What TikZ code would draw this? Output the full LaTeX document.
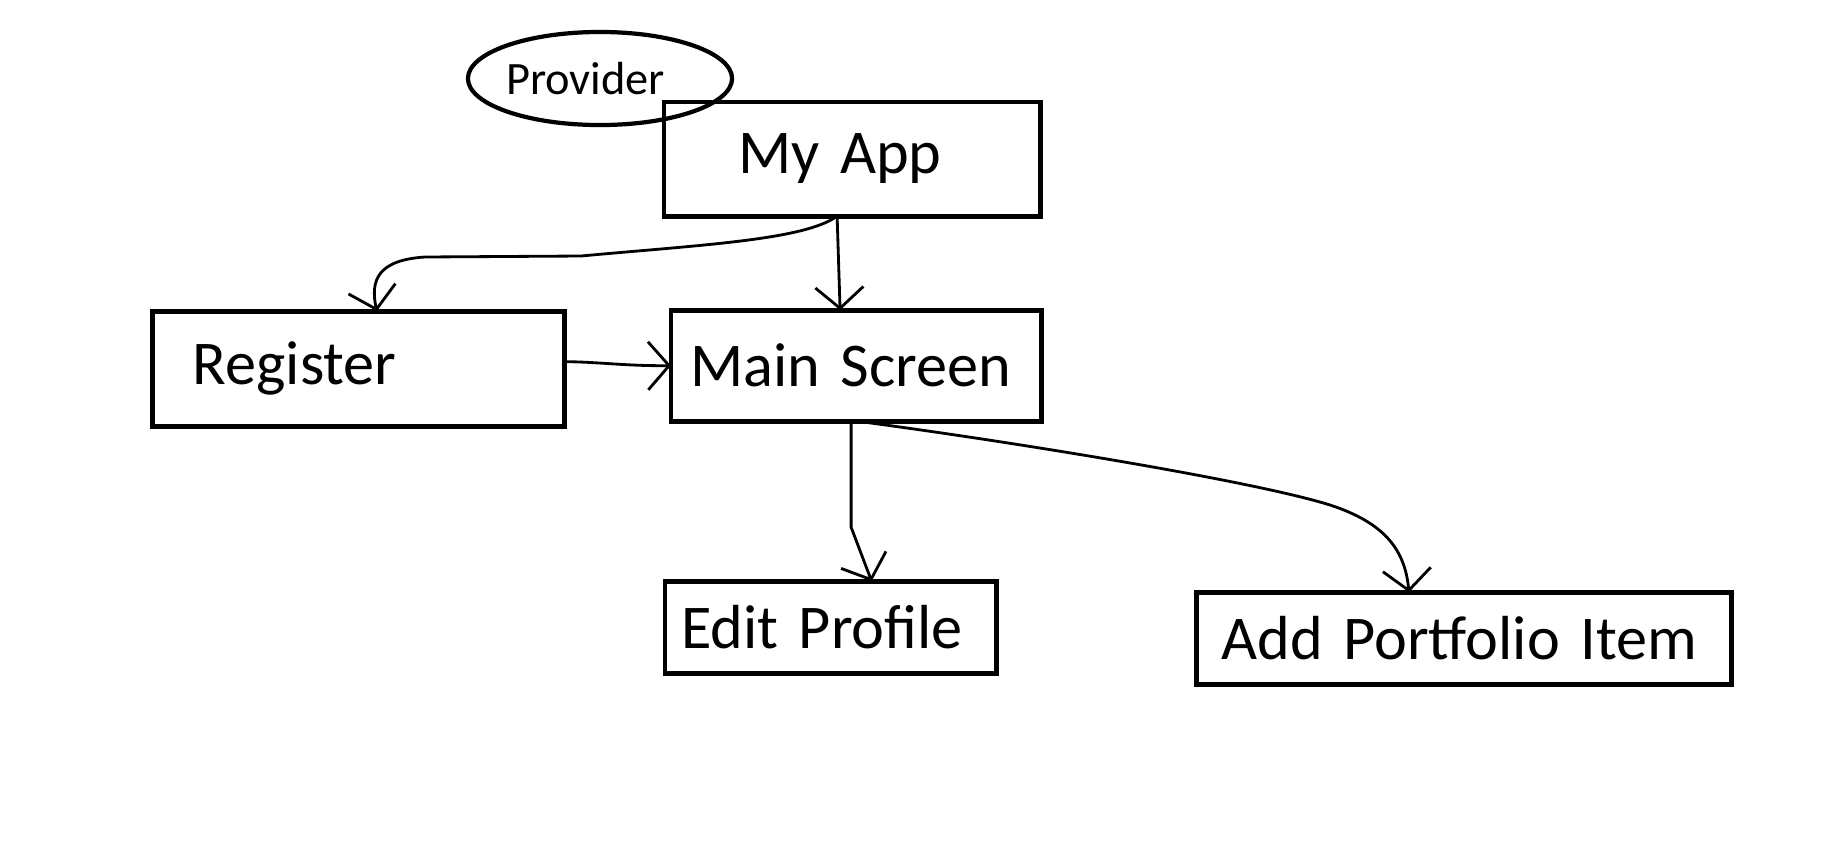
\documentclass[tikz,border=0pt]{standalone}
\usepackage{fontspec}
\setmainfont{Carlito}
\usetikzlibrary{positioning}
\usetikzlibrary{arrows.meta}
\usetikzlibrary{shapes.geometric}

\begin{document}
\begin{tikzpicture}[x=0.01cm, y=-0.01cm,
    screen/.style={rectangle, draw=black, line width=1.4pt, outer sep=0pt, align=left, inner ysep=0pt, font=\fontsize{17.7}{21}\selectfont},
    wrapper/.style={ellipse, draw=black, very thick, inner sep=0pt, minimum width=2.64cm, minimum height=0.93cm, font=\fontsize{13.2}{16}\selectfont},
    nav/.style={-{Straight Barb[length=2.1mm, width=4.8mm]}, black, thick}]

    \useasboundingbox (0,0) rectangle (1821,854);

    \node[screen, anchor=north west, minimum height=1.14cm, inner xsep=0.74cm, text width=2.28cm] (MyApp) at (664,102) {My App};
    \node[wrapper] (Provider) at (600,78.5) {\hspace*{-0.29cm}Provider};

    \node[screen, below=0.94cm of MyApp, xshift=0.04cm, minimum height=1.11cm, inner xsep=0.19cm, text width=3.32cm] (MainScreen)
        {Main Screen};
    \node[screen, left=1.06cm of MainScreen, yshift=-0.03cm, minimum height=1.15cm, inner xsep=0.40cm, text width=3.32cm] (Register)
        {Register};
    \node[screen, below right=1.60cm and -0.06cm of MainScreen.south west, minimum height=0.92cm, inner xsep=0.16cm, text width=2.99cm] (EditProfile)
        {Edit Profile};
    \node[screen, below right=1.71cm and 1.55cm of MainScreen.south east, minimum height=0.92cm, inner xsep=0.25cm, text width=4.85cm] (AddItem)
        {Add Portfolio Item};

    \draw[nav] ([xshift=-0.15cm]MyApp.south) -- ([xshift=-0.16cm]MainScreen.north);
    \draw[nav] ([xshift=-0.15cm]MyApp.south) .. controls (805,240) and (700,245) .. (581,256) -- (425,257)
        .. controls (378,260) and (370,280) .. ([xshift=0.18cm]Register.north);
    \draw[nav] ([yshift=0.07cm]Register.east) .. controls (600,362) and (625,366) .. (MainScreen.west);
    \draw[nav] ([xshift=-0.05cm]MainScreen.south) -- ++(0,106) -- ([xshift=0.41cm]EditProfile.north);
    \draw[nav] ([xshift=0.01cm]MainScreen.south) .. controls (1000,440) and (1250,480) .. (1330,505)
        .. controls (1385,523) and (1405,550) .. ([xshift=-0.55cm]AddItem.north);
\end{tikzpicture}
\end{document}
